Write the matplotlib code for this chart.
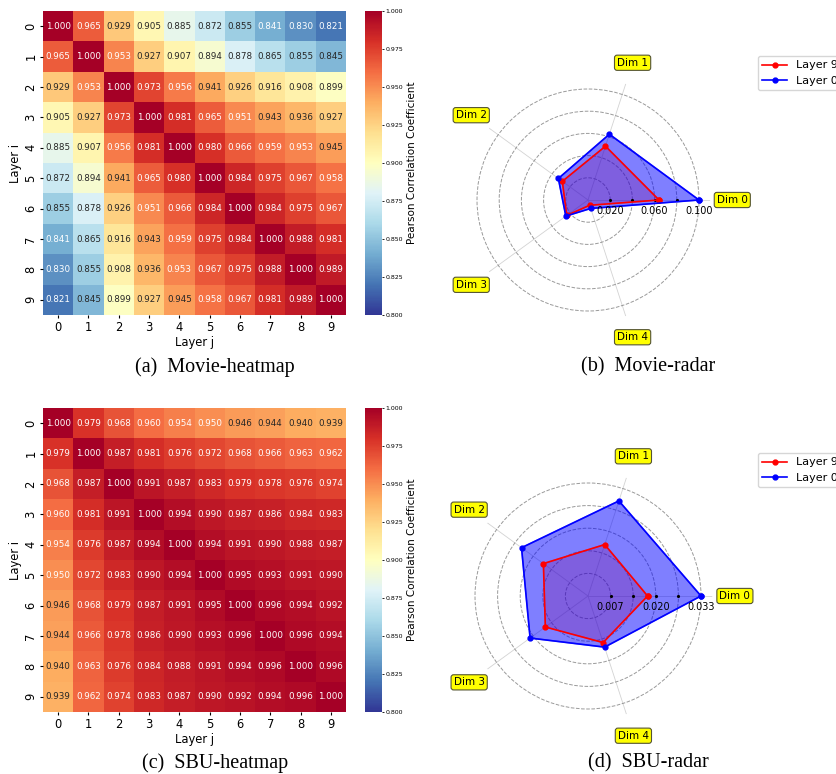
import numpy as np
import matplotlib
matplotlib.use("Agg")
import matplotlib.pyplot as plt
import seaborn as sns

# ---------------- data ----------------
layers = list(range(10))
movie_corr = [
    [1.000, 0.965, 0.929, 0.905, 0.885, 0.872, 0.855, 0.841, 0.830, 0.821],
    [0.965, 1.000, 0.953, 0.927, 0.907, 0.894, 0.878, 0.865, 0.855, 0.845],
    [0.929, 0.953, 1.000, 0.973, 0.956, 0.941, 0.926, 0.916, 0.908, 0.899],
    [0.905, 0.927, 0.973, 1.000, 0.981, 0.965, 0.951, 0.943, 0.936, 0.927],
    [0.885, 0.907, 0.956, 0.981, 1.000, 0.980, 0.966, 0.959, 0.953, 0.945],
    [0.872, 0.894, 0.941, 0.965, 0.980, 1.000, 0.984, 0.975, 0.967, 0.958],
    [0.855, 0.878, 0.926, 0.951, 0.966, 0.984, 1.000, 0.984, 0.975, 0.967],
    [0.841, 0.865, 0.916, 0.943, 0.959, 0.975, 0.984, 1.000, 0.988, 0.981],
    [0.830, 0.855, 0.908, 0.936, 0.953, 0.967, 0.975, 0.988, 1.000, 0.989],
    [0.821, 0.845, 0.899, 0.927, 0.945, 0.958, 0.967, 0.981, 0.989, 1.000],
]
sbu_corr = [
    [1.000, 0.979, 0.968, 0.960, 0.954, 0.950, 0.946, 0.944, 0.940, 0.939],
    [0.979, 1.000, 0.987, 0.981, 0.976, 0.972, 0.968, 0.966, 0.963, 0.962],
    [0.968, 0.987, 1.000, 0.991, 0.987, 0.983, 0.979, 0.978, 0.976, 0.974],
    [0.960, 0.981, 0.991, 1.000, 0.994, 0.990, 0.987, 0.986, 0.984, 0.983],
    [0.954, 0.976, 0.987, 0.994, 1.000, 0.994, 0.991, 0.990, 0.988, 0.987],
    [0.950, 0.972, 0.983, 0.990, 0.994, 1.000, 0.995, 0.993, 0.991, 0.990],
    [0.946, 0.968, 0.979, 0.987, 0.991, 0.995, 1.000, 0.996, 0.994, 0.992],
    [0.944, 0.966, 0.978, 0.986, 0.990, 0.993, 0.996, 1.000, 0.996, 0.994],
    [0.940, 0.963, 0.976, 0.984, 0.988, 0.991, 0.994, 0.996, 1.000, 0.996],
    [0.939, 0.962, 0.974, 0.983, 0.987, 0.990, 0.992, 0.994, 0.996, 1.000],
]
dims = ["Dim 0", "Dim 1", "Dim 2", "Dim 3", "Dim 4"]
movie_layer9 = [0.064, 0.051, 0.0286, 0.0237, 0.005]
movie_layer0 = [0.100, 0.0623, 0.033, 0.0247, 0.008]
sbu_layer9 = [0.0174, 0.0158, 0.0161, 0.0154, 0.0143]
sbu_layer0 = [0.033, 0.0292, 0.024, 0.0209, 0.0157]
cbar_ticks = [0.800, 0.825, 0.850, 0.875, 0.900, 0.925, 0.950, 0.975, 1.000]
captions = ["(a)  Movie-heatmap", "(b)  Movie-radar", "(c)  SBU-heatmap", "(d)  SBU-radar"]

W, H = 836, 774
fig = plt.figure(figsize=(W / 100, H / 100), dpi=100)


def rect(x0, y0, x1, y1):
    return [x0 / W, 1 - y1 / H, (x1 - x0) / W, (y1 - y0) / H]


def heatmap(data, box, cbox):
    ax = fig.add_axes(rect(*box))
    cax = fig.add_axes(rect(*cbox))
    sns.heatmap(np.array(data), ax=ax, cbar_ax=cax, annot=True, fmt=".3f",
                cmap="RdYlBu_r", vmin=0.8, vmax=1.0,
                annot_kws={"fontsize": 6.3},
                xticklabels=layers, yticklabels=layers)
    ax.tick_params(labelsize=8.3, length=2.5, width=0.8, pad=1.5)
    ax.set_yticklabels(layers, rotation=90, va="center")
    ax.set_xlabel("Layer j", fontsize=8.3, labelpad=1.5)
    ax.set_ylabel("Layer i", fontsize=8.3, labelpad=2)
    cax.set_yticks(cbar_ticks)
    cax.set_yticklabels([f"{t:.3f}" for t in cbar_ticks])
    cax.tick_params(labelsize=4.5, length=1.5, width=0.6, pad=1)
    cax.set_ylabel("Pearson Correlation Coefficient", fontsize=7.5, labelpad=3)


def radar(l9, l0, center, rad_px):
    cx, cy = center
    vmax = max(max(l9), max(l0))
    rmax = 1.1 * vmax
    R = rad_px * 1.1
    ax = fig.add_axes(rect(cx - R, cy - R, cx + R, cy + R), projection="polar")
    n = len(dims)
    ang = np.linspace(0, 2 * np.pi, n, endpoint=False)
    angc = np.concatenate([ang, ang[:1]])
    v9 = np.concatenate([l9, l9[:1]])
    v0 = np.concatenate([l0, l0[:1]])
    ax.fill(angc, v9, color="red", alpha=0.25, zorder=2)
    ax.fill(angc, v0, color="blue", alpha=0.5, zorder=2)
    ax.plot(angc, v9, "o-", color="red", lw=1.2, ms=3.5, label="Layer 9", zorder=4)
    ax.plot(angc, v0, "o-", color="blue", lw=1.2, ms=3.5, label="Layer 0", zorder=4)
    levels = np.linspace(0, vmax, 6)[1:]
    ax.set_ylim(0, rmax)
    ax.set_yticks(levels)
    ax.set_yticklabels([])
    ax.set_xticks(ang)
    ax.set_xticklabels([])
    ax.yaxis.grid(True, linestyle="--", color="gray", alpha=0.8, lw=0.7)
    ax.xaxis.grid(True, color="lightgray", lw=0.6)
    ax.spines["polar"].set_visible(False)
    ax.plot(np.zeros(len(levels)), levels, "k.", ms=2.5, zorder=3)
    for i, lv in enumerate(levels):
        if i % 2 == 0:
            ax.annotate(f"{lv:.3f}", (0, lv), xytext=(0, -4.5), textcoords="offset points",
                        ha="center", va="top", fontsize=7, zorder=5)
    for a, d in zip(ang, dims):
        ax.text(a, vmax * 1.3, d, ha="center", va="center", fontsize=7.5, clip_on=False,
                bbox=dict(boxstyle="round,pad=0.25", fc="yellow", ec="#555533", lw=0.8))
    ax.set_facecolor("none")
    return ax


heatmap(movie_corr, (43, 11, 346, 315), (365, 11, 382, 315))
heatmap(sbu_corr, (43, 408, 346, 712), (365, 408, 382, 712))
ax_b = radar(movie_layer9, movie_layer0, (588, 200), 111)
ax_d = radar(sbu_layer9, sbu_layer0, (588, 596), 113)
for ax, ytop in ((ax_b, 56), (ax_d, 453)):
    ax.legend(loc="upper left", bbox_to_anchor=(758 / W, 1 - ytop / H),
              bbox_transform=fig.transFigure, fontsize=8, borderaxespad=0,
              handlelength=2.2, framealpha=0.8)

cap_font = ["Liberation Serif", "DejaVu Serif"]
cap_size = 14.5
fig.text(215 / W, 1 - 367 / H, captions[0], ha="center", va="center", fontsize=cap_size, family=cap_font)
fig.text(648 / W, 1 - 367 / H, captions[1], ha="center", va="center", fontsize=cap_size, family=cap_font)
fig.text(215 / W, 1 - 763 / H, captions[2], ha="center", va="center", fontsize=cap_size, family=cap_font)
fig.text(648 / W, 1 - 763 / H, captions[3], ha="center", va="center", fontsize=cap_size, family=cap_font)

fig.savefig("out.png", dpi=100)
